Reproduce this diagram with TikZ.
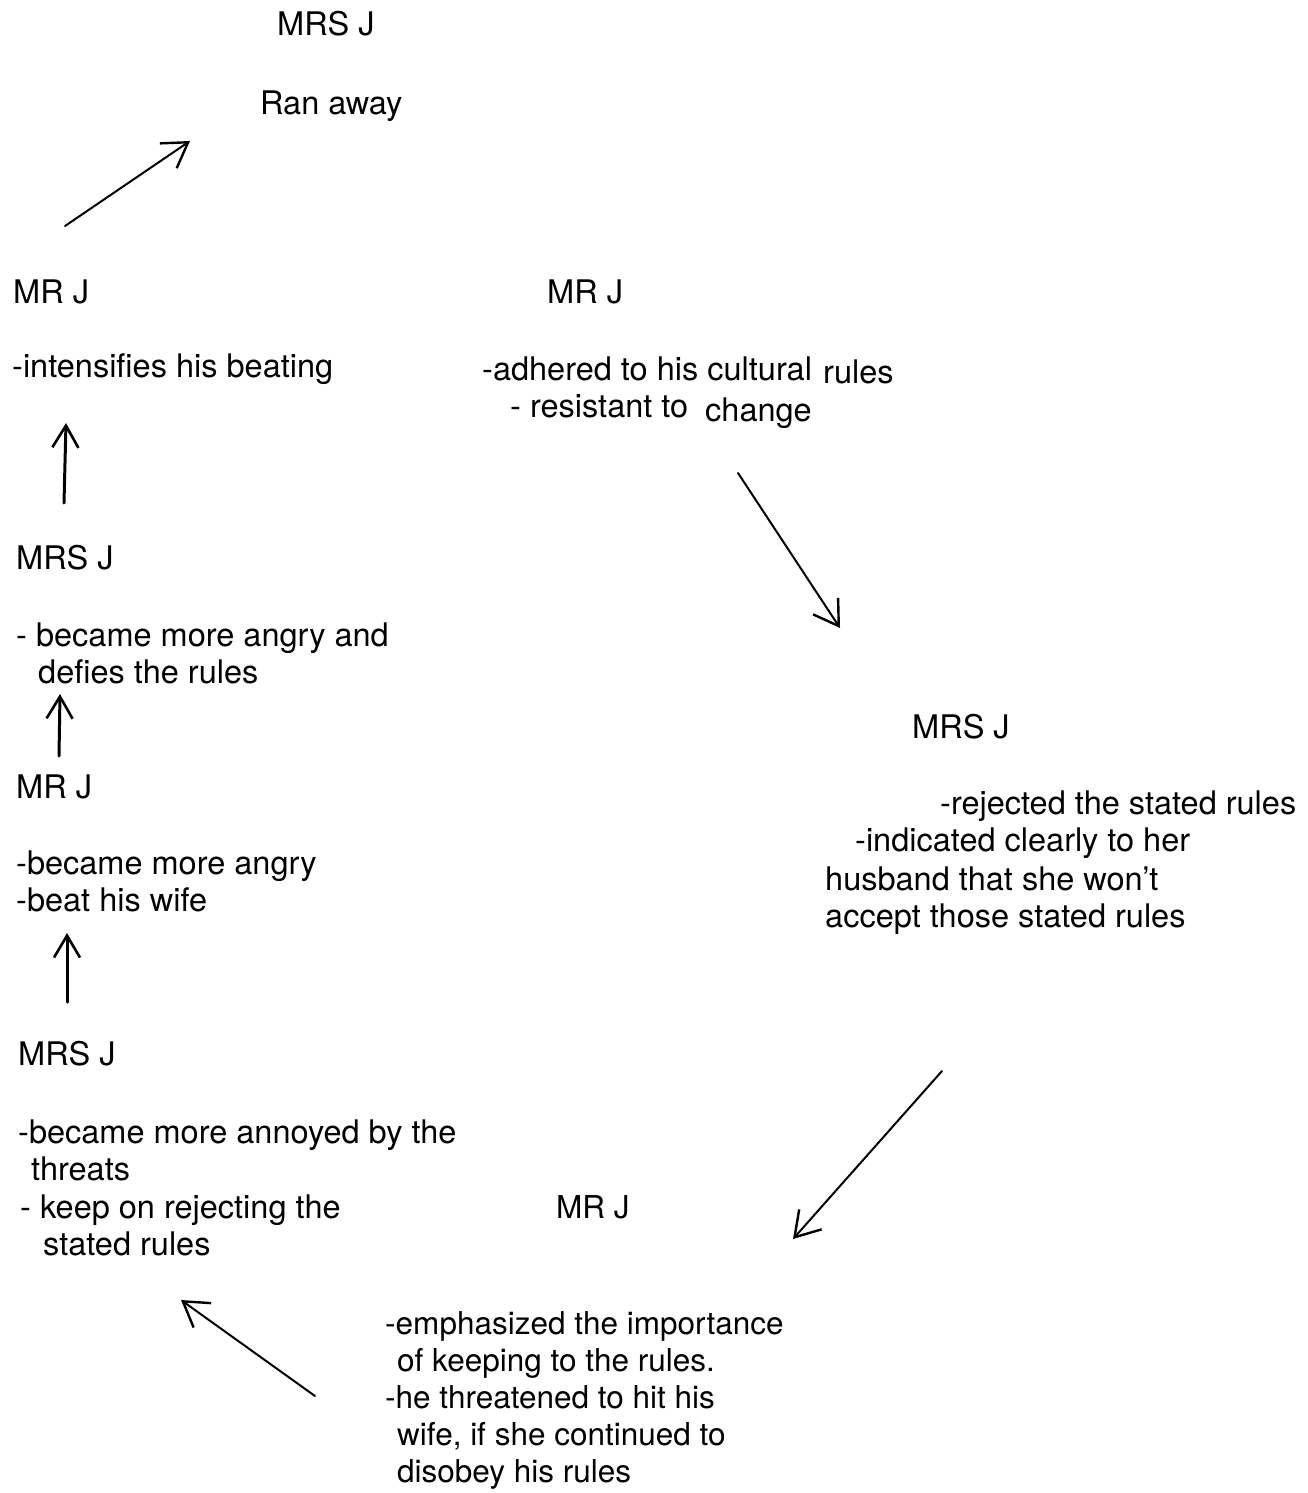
\documentclass[tikz,border=0pt]{standalone}
\usepackage{fontspec}
\setmainfont{TeX Gyre Heros}
\usetikzlibrary{arrows.meta}
\begin{document}
\begin{tikzpicture}[x=1pt,y=-1pt,
  txt/.style={anchor=base west, inner sep=0pt, font=\fontsize{32.5}{37.5}\selectfont},
  txtn/.style={txt, font=\fontsize{31.5}{37.5}\selectfont},
  uparr/.style={line width=3pt, line cap=round, -{Straight Barb[length=22pt,width=26pt,line width=2.6pt]}},
  diagarr/.style={line width=2pt, line cap=round, -{Straight Barb[length=24pt,width=30pt,line width=2.4pt]}}]
\useasboundingbox (0,0) rectangle (1307,1493);
% top
\node[txt] (t0a) at (277,36) {MRS J};
\node[txt] (t0b) at (260,114) {Ran away};
% left column
\node[txt] (t1a) at (13,303) {MR J};
\node[txt] (t1b) at (12,377) {-intensifies his beating};
\node[txt] (t2a) at (16,569) {MRS J};
\node[txt] (t2b) at (16,646) {- became more angry and};
\node[txt] (t2c) at (38,683) {defies the rules};
\node[txt] (t3a) at (16,798) {MR J};
\node[txt] (t3b) at (16,874) {-became more angry};
\node[txt] (t3c) at (16,911) {-beat his wife};
\node[txt] (t4a) at (18,1065) {MRS J};
\node[txt] (t4b) at (18,1143) {-became more annoyed by the};
\node[txt] (t4c) at (31,1180) {threats};
\node[txt] (t4d) at (20,1218) {- keep on rejecting the};
\node[txt] (t4e) at (43,1255) {stated rules};
% bottom middle
\node[txtn] (t5a) at (556,1218) {MR J};
\node[txtn] (t5b) at (385,1334) {-emphasized the importance};
\node[txtn] (t5c) at (397,1371) {of keeping to the rules.};
\node[txtn] (t5d) at (385,1408) {-he threatened to hit his};
\node[txtn] (t5e) at (397,1445) {wife, if she continued to};
\node[txtn] (t5f) at (397,1482) {disobey his rules};
% top middle
\node[txt] (t6a) at (547,303) {MR J};
\node[txt] (t6b) at (482,380) {-adhered to his cultural};
\node[txt] (t6c) at (823,383) {rules};
\node[txt] (t6d) at (510,417) {- resistant to};
\node[txt] (t6e) at (705,421) {change};
% right
\node[txt] (t7a) at (912,738) {MRS J};
\node[txt] (t7b) at (940,814) {-rejected the stated rules};
\node[txt] (t7c) at (855,851) {-indicated clearly to her};
\node[txt] (t7d) at (825,890) {husband that she won't};
\node[txt] (t7e) at (825,927) {accept those stated rules};
% arrow end points
\coordinate (a1s) at (65,226);   \coordinate (a1e) at (190,141);
\coordinate (a2s) at (64,503);   \coordinate (a2e) at (66,423);
\coordinate (a3s) at (59,756);   \coordinate (a3e) at (60,694);
\coordinate (a4s) at (67,1002);  \coordinate (a4e) at (67,933);
\coordinate (a5s) at (315,1396); \coordinate (a5e) at (181,1300);
\coordinate (a6s) at (942,1071); \coordinate (a6e) at (793,1239);
\coordinate (a7s) at (738,473);  \coordinate (a7e) at (840,628);
\draw[diagarr] (a1s) -- (a1e);
\draw[uparr] (a2s) -- (a2e);
\draw[uparr] (a3s) -- (a3e);
\draw[uparr] (a4s) -- (a4e);
\draw[diagarr] (a5s) -- (a5e);
\draw[diagarr] (a6s) -- (a6e);
\draw[diagarr] (a7s) -- (a7e);
\end{tikzpicture}
\end{document}
